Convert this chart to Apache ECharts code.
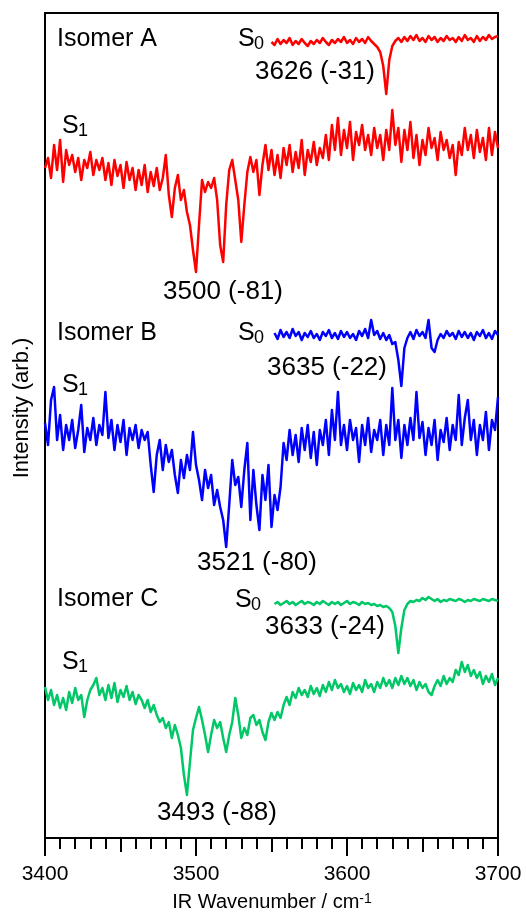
<!DOCTYPE html>
<html>
<head>
<meta charset="utf-8">
<script src="https://cdn.jsdelivr.net/npm/echarts@6/dist/echarts.min.js"></script>
<style>html,body{margin:0;padding:0;background:#fff;}#c{width:526px;height:912px;}</style>
</head>
<body>
<div id="c"></div>
<script>
// Wavenumber sampling (cm-1)
const s1Start = 3400, s0StartA = 3550, s0StartBC = 3552, step = 2;
const xTicks = [3400, 3500, 3600, 3700];

// Intensities (arb., vertically offset traces)
const isoA_S1 = [670,680,660,693,668,698,656,688,673,683,666,680,658,678,670,686,663,678,668,680,
658,675,653,678,662,673,650,676,658,670,648,668,653,673,646,666,652,670,648,660,
683,643,621,650,663,638,648,626,613,588,566,613,658,646,656,650,660,638,593,576,
633,668,678,658,638,596,633,666,681,666,678,643,673,693,668,688,663,683,660,690,
673,693,666,686,670,698,663,688,676,696,673,690,680,703,678,713,688,720,683,708,
690,716,678,706,693,713,688,703,683,710,690,703,678,708,688,728,693,710,676,708,
688,716,680,703,673,698,683,710,690,700,678,706,688,698,680,693,663,696,683,710,
688,703,680,708,686,700,678,710,683,706,690];
const isoA_S0 = [796,793,799,794,798,795,800,793,797,794,799,795,792,797,794,798,795,800,796,793,
798,795,799,796,801,795,798,794,800,796,799,795,801,797,794,791,786,772,744,778,
792,797,800,796,801,797,802,798,803,797,800,796,802,798,801,796,800,797,802,798,
800,796,801,797,803,798,800,796,802,797,801,798,803,799,801,802];
const isoB_S1 = [415,393,438,451,398,423,388,413,398,418,390,408,433,386,410,398,420,393,413,403,
446,400,418,388,413,396,418,383,410,398,413,390,408,398,406,373,346,383,398,368,
393,376,388,363,345,378,360,383,368,406,373,358,338,368,350,363,333,348,331,318,
291,333,378,353,361,331,368,395,318,368,333,308,363,338,373,311,343,328,351,395,
378,408,383,403,376,410,388,413,380,406,373,408,393,418,383,428,398,446,393,413,
388,418,398,410,376,413,393,420,386,408,398,418,383,413,393,450,398,418,380,413,
393,420,398,446,400,416,383,410,393,418,378,408,396,420,388,413,398,443,393,420,
438,398,418,383,413,398,426,388,418,408,441];
const isoB_S0 = [505,499,508,501,506,500,509,502,506,498,505,501,507,500,504,498,506,502,508,500,
505,499,507,501,506,500,504,498,507,502,509,500,518,503,507,499,505,498,503,494,
496,478,452,490,500,506,499,508,502,506,500,518,490,486,498,504,500,507,502,505,
499,507,501,506,500,505,498,506,502,508,500,505,499,507,503];
const isoC_S1 = [151,138,148,133,143,130,140,128,146,135,150,138,143,121,138,148,153,160,143,150,
138,153,140,155,136,148,141,152,138,146,134,143,138,130,138,126,133,123,116,120,
110,116,100,113,103,90,63,43,76,108,120,131,118,103,86,103,118,110,116,100,
86,103,116,140,123,100,110,103,120,123,113,118,106,98,116,125,118,126,120,133,
141,133,146,140,150,143,148,141,152,144,150,142,153,146,156,148,158,150,154,146,
152,144,155,148,153,146,158,150,154,146,156,150,160,152,158,150,160,153,162,154,
160,152,158,148,156,150,154,146,143,152,158,152,162,154,160,156,168,163,176,166,
173,162,168,160,166,154,162,156,164,153,160];
const isoC_S0 = [234,236,233,235,237,234,236,233,235,237,234,236,235,233,236,234,237,235,233,236,
234,236,233,235,237,234,236,235,233,236,234,235,233,234,232,233,231,232,230,226,
212,185,210,228,234,237,236,238,237,240,238,241,239,237,239,236,238,237,239,238,
237,239,238,236,238,237,239,238,237,239,238,237,239,238,237];

const RED = '#ff0000', BLUE = '#0000ff', GREEN = '#00c866';
const FONT = '"Liberation Sans", Arial, Helvetica, sans-serif';

function pairs(start, arr) { return arr.map((v, i) => [start + i * step, v]); }

function line(data, color) {
  return { type: 'line', data: data, showSymbol: false, symbol: 'none',
    lineStyle: { color: color, width: 2.5, join: 'round' }, itemStyle: { color: color },
    animation: false, silent: true, z: 3 };
}

function txt(x, y, text, size, extra) {
  return Object.assign({ type: 'text', x: x, y: y, z: 10,
    style: { text: text, fontSize: size, fontFamily: FONT, fill: '#000',
      align: 'left', verticalAlign: 'middle' } }, extra || {});
}

const chart = echarts.init(document.getElementById('c'), null, { renderer: 'canvas' });
chart.setOption({
  backgroundColor: '#fff',
  animation: false,
  grid: { left: 45, right: 28, top: 13, bottom: 74, show: true,
    borderColor: '#000', borderWidth: 2, backgroundColor: 'transparent' },
  xAxis: [{
    type: 'value', min: 3400, max: 3700, interval: 100, position: 'bottom',
    axisLine: { show: true, lineStyle: { color: '#000', width: 2 } },
    axisTick: { show: true, length: 18, lineStyle: { color: '#000', width: 2 } },
    minorTick: { show: true, splitNumber: 10, length: 11, lineStyle: { color: '#000', width: 2 } },
    splitLine: { show: false },
    axisLabel: { margin: 26, fontSize: 21, fontFamily: FONT, color: '#000',
      formatter: v => xTicks.indexOf(v) >= 0 ? String(v) : '' }
  }, {
    type: 'value', min: 3400, max: 3700, interval: 50, position: 'bottom',
    axisLine: { show: false },
    axisTick: { show: true, length: 14, lineStyle: { color: '#000', width: 2 } },
    splitLine: { show: false },
    axisLabel: { show: false }
  }],
  yAxis: { type: 'value', min: 0, max: 825, show: true,
    axisLine: { show: false }, axisTick: { show: false },
    axisLabel: { show: false }, splitLine: { show: false } },
  series: [
    line(pairs(s1Start, isoA_S1), RED),
    line(pairs(s0StartA, isoA_S0), RED),
    line(pairs(s1Start, isoB_S1), BLUE),
    line(pairs(s0StartBC, isoB_S0), BLUE),
    line(pairs(s1Start, isoC_S1), GREEN),
    line(pairs(s0StartBC, isoC_S0), GREEN)
  ],
  graphic: [
    txt(57, 39, 'Isomer A', 25),
    txt(238, 39, 'S', 25), txt(254, 44, '0', 18),
    txt(255, 72, '3626 (-31)', 26),
    txt(62, 126, 'S', 25), txt(78, 131, '1', 18),
    txt(163, 292, '3500 (-81)', 26),

    txt(57, 333, 'Isomer B', 25),
    txt(238, 333, 'S', 25), txt(254, 338, '0', 18),
    txt(267, 368, '3635 (-22)', 26),
    txt(62, 385, 'S', 25), txt(78, 390, '1', 18),
    txt(197, 563, '3521 (-80)', 26),

    txt(57, 599, 'Isomer C', 25),
    txt(235, 600, 'S', 25), txt(251, 605, '0', 18),
    txt(265, 627, '3633 (-24)', 26),
    txt(62, 662, 'S', 25), txt(78, 667, '1', 18),
    txt(157, 813, '3493 (-88)', 26),

    { type: 'text', x: 22, y: 408, rotation: Math.PI / 2, z: 10,
      style: { text: 'Intensity (arb.)', fontSize: 22, fontFamily: FONT, fill: '#000',
        align: 'center', verticalAlign: 'middle' } },
    { type: 'text', x: 272, y: 902, z: 10,
      style: { text: '{a|IR Wavenumber / cm}{b|-1}', fontFamily: FONT, fill: '#000',
        align: 'center', verticalAlign: 'middle',
        rich: { a: { fontSize: 20, fontFamily: FONT, fill: '#000' },
                b: { fontSize: 14, fontFamily: FONT, fill: '#000', verticalAlign: 'top', lineHeight: 14 } } } }
  ]
});
</script>
</body>
</html>
